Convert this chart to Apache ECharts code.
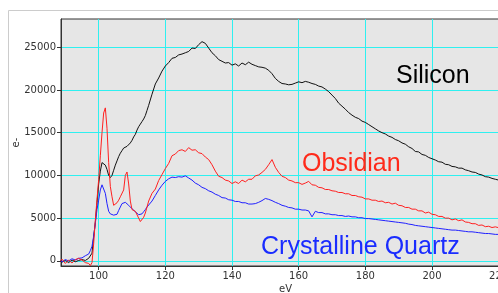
<!DOCTYPE html>
<html>
<head>
<meta charset="utf-8">
<script src="https://cdn.jsdelivr.net/npm/echarts@6/dist/echarts.min.js"></script>
<style>
  html, body { margin: 0; padding: 0; background: #fff; }
  #main { width: 498px; height: 293px; }
</style>
</head>
<body>
<div id="main"></div>
<script>
// energy grid (eV)
var energy = [88, 89, 90, 91, 92, 93, 94, 95, 96,
  97, 97.5, 98, 98.5, 99, 99.5, 100, 100.5, 101, 101.5, 102, 102.5, 103, 103.5, 104, 104.5,
  105, 105.5, 106, 106.5, 107, 107.5, 108, 108.5, 109, 109.5, 110, 110.5, 111, 111.5, 112,
  112.5, 113, 113.5, 114, 114.5, 115,
  116, 117, 118, 119, 120, 121, 122, 123, 124, 125, 126, 127, 128, 129, 130, 131, 132, 133,
  134, 135, 136, 137, 138, 139, 140, 141, 142, 143, 144, 145, 146, 147, 148, 149, 150, 151,
  152, 153, 154, 155, 156, 157, 158, 159, 160, 161, 162, 163, 164, 165, 166, 167, 168, 169,
  170, 171, 172, 173, 174, 175, 176, 177, 178, 179, 180, 181, 182, 183, 184, 185, 186, 187,
  188, 189, 190, 191, 192, 193, 194, 195, 196, 197, 198, 199, 200, 201, 202, 203, 204, 205,
  206, 207, 208, 209, 210, 211, 212, 213, 214, 215, 216, 217, 218, 219, 220, 221, 222];

var silicon = [100, -150, 50, -200, 100, -100, 50, 150, 50,
  300, 500, 900, 2800, 4500, 6800, 9000, 10500, 11500, 11600, 11200, 10700, 10000, 9750, 10000, 10600,
  11200, 11700, 12200, 12600, 12900, 13200, 13300, 13400, 13600, 13800, 14100, 14500, 14800, 15300, 15700,
  16000, 16300, 16600, 17000, 17600, 18200,
  19500, 20700, 21400, 22200, 22800, 23200, 23700, 23800, 24100, 24200, 24350, 24500, 24900, 24850, 25300, 25650, 25450, 24900,
  24350, 24000, 23550, 23350, 23150, 23200, 22900, 23050, 22800, 23150, 22950, 23250, 23000, 22850, 22700, 22650, 22550, 22300,
  21900, 21350, 21000, 20750, 20700, 20600, 20650, 20800, 20950, 20850, 21000, 20900, 20750, 20650, 20450, 20350, 20100, 19800,
  19400, 19000, 18450, 18100, 17750, 17350, 17050, 16800, 16650, 16350, 16200, 15950, 15700, 15450, 15200, 15000, 14850, 14600,
  14450, 14200, 14050, 13800, 13650, 13350, 13150, 12800, 12750, 12450, 12350, 12100, 11950, 11800, 11600, 11550, 11300, 11250,
  11050, 11000, 10850, 10850, 10650, 10550, 10400, 10350, 10150, 10050, 9850, 9800, 9650, 9550, 9450, 9400, 9250];

var obsidian = [-200, 200, -300, 100, -250, 150, 300, 100, -200,
  -300, -550, -200, 2000, 4800, 7200, 9500, 12300, 15000, 17300, 17900, 15500, 11500, 8700, 7500, 6500,
  6300, 6800, 7100, 7500, 7300, 8300, 10000, 10400, 9000, 7000, 6000, 5900, 5800, 5600, 5000,
  4600, 4700, 5100, 5600, 6300, 7000,
  7900, 8400, 9400, 10100, 10800, 11400, 12300, 12500, 12900, 13000, 12800, 13250, 12950, 13000, 12650, 12550, 12150, 11850,
  11250, 10500, 9900, 9750, 9450, 9350, 9050, 9250, 9050, 9450, 9250, 9550, 9550, 9950, 10050, 10350, 10700, 11250,
  11850, 10950, 10350, 9900, 9750, 9450, 9350, 9150, 9150, 8950, 9100, 9300, 8900, 8850, 8600, 8550, 8350, 8350,
  8200, 8150, 8000, 8000, 7850, 7850, 7650, 7650, 7500, 7450, 7250, 7250, 7100, 7100, 6950, 7000, 6800, 6850,
  6650, 6750, 6500, 6450, 6250, 6250, 6050, 6050, 5850, 5850, 5600, 5700, 5450, 5400, 5200, 5200, 5000, 5000,
  4800, 4900, 4700, 4800, 4550, 4500, 4350, 4350, 4150, 4200, 4000, 4050, 3900, 3980, 3880, 3870, 3780];

var quartz = [200, -100, 150, 0, 250, 100, 300, 350, 600,
  800, 1200, 1700, 2900, 4400, 6000, 7100, 8300, 8900, 8900, 7900, 6700, 5800, 5500, 5400, 5350,
  5300, 5450, 5900, 6300, 6700, 6900, 6850, 6700, 6500, 6300, 6100, 5950, 5750, 5550, 5400,
  5350, 5500, 5750, 6000, 6300, 6500,
  7000, 7650, 8300, 8850, 9300, 9600, 9800, 9750, 9850, 9800, 9950, 9700, 9450, 9100, 8900, 8600, 8450, 8200,
  8050, 7800, 7650, 7400, 7350, 7150, 7100, 6950, 6950, 6800, 6800, 6650, 6650, 6700, 6850, 7050, 7300, 7200,
  7050, 6850, 6700, 6500, 6400, 6250, 6200, 6050, 6050, 5950, 5950, 5850, 5150, 5800, 5650, 5650, 5500, 5500,
  5400, 5400, 5300, 5300, 5200, 5250, 5150, 5150, 5050, 5050, 4950, 4950, 4900, 4850, 4800, 4750, 4700, 4650,
  4600, 4550, 4500, 4450, 4400, 4300, 4250, 4150, 4100, 4050, 4000, 3950, 3900, 3850, 3800, 3750, 3700, 3650,
  3600, 3600, 3550, 3500, 3450, 3400, 3400, 3350, 3300, 3250, 3200, 3200, 3150, 3100, 3100, 3050, 3000];

var xTicks = [100, 120, 140, 160, 180, 200, 220];
var yTicks = [0, 5000, 10000, 15000, 20000, 25000];

function pairs(ys) {
  var out = [];
  for (var i = 0; i < energy.length; i++) out.push([energy[i], ys[i]]);
  return out;
}

var gridCyan = '#2ef0f0';
var axisFont = 'DejaVu Sans';
var labelFont = '"Liberation Sans", Arial, sans-serif';
var plain = function (v) { return String(v); };

var myChart = echarts.init(document.getElementById('main'));
myChart.setOption({
  animation: false,
  backgroundColor: '#fff',
  grid: {
    left: 61, top: 19, bottom: 27, right: -34,
    containLabel: false, outerBoundsMode: 'none',
    show: true, backgroundColor: '#e6e6e6', borderColor: '#333', borderWidth: 1
  },
  graphic: [
    { type: 'rect', z: -10, silent: true,
      shape: { x: 8.5, y: 10.5, width: 600, height: 400 },
      style: { fill: 'none', stroke: '#cccccc', lineWidth: 1 } },
    { type: 'text', left: 396, top: 64, z: 100,
      style: { text: 'Silicon', fill: '#000', font: '25px ' + labelFont } },
    { type: 'text', left: 302, top: 152, z: 100,
      style: { text: 'Obsidian', fill: '#ff2a1a', font: '25px ' + labelFont } },
    { type: 'text', left: 261, top: 235, z: 100,
      style: { text: 'Crystalline Quartz', fill: '#1a2cff', font: '25px ' + labelFont } }
  ],
  xAxis: {
    type: 'value', min: 88.7, max: 230,
    name: 'eV', nameLocation: 'middle', nameGap: 18, nameMoveOverlap: false,
    nameTextStyle: { fontFamily: axisFont, fontSize: 10, color: '#333', padding: [0, 22, 0, 0] },
    axisLine: { show: true, onZero: false, lineStyle: { color: '#333', width: 1 } },
    axisTick: { show: true, length: 4, customValues: xTicks, lineStyle: { color: '#333' } },
    axisLabel: { customValues: xTicks, formatter: plain, margin: 5, fontFamily: axisFont, fontSize: 10, color: '#333' },
    splitLine: { show: true, lineStyle: { color: gridCyan, width: 1 } }
  },
  yAxis: {
    type: 'value', min: -600, max: 28300,
    name: 'e-', nameLocation: 'middle', nameGap: 40, nameMoveOverlap: false,
    nameTextStyle: { fontFamily: axisFont, fontSize: 10, color: '#333' },
    axisLine: { show: true, onZero: false, lineStyle: { color: '#333', width: 1 } },
    axisTick: { show: true, length: 4, customValues: yTicks, lineStyle: { color: '#333' } },
    axisLabel: { customValues: yTicks, formatter: plain, margin: 5, fontFamily: axisFont, fontSize: 10, color: '#333' },
    splitLine: { show: true, lineStyle: { color: gridCyan, width: 1 } }
  },
  series: [
    { name: 'Silicon', type: 'line', data: pairs(silicon), showSymbol: false,
      lineStyle: { color: '#111', width: 1 } },
    { name: 'Crystalline Quartz', type: 'line', data: pairs(quartz), showSymbol: false,
      lineStyle: { color: '#2020ff', width: 1 } },
    { name: 'Obsidian', type: 'line', data: pairs(obsidian), showSymbol: false,
      lineStyle: { color: '#ff2020', width: 1 } }
  ]
});
</script>
</body>
</html>
